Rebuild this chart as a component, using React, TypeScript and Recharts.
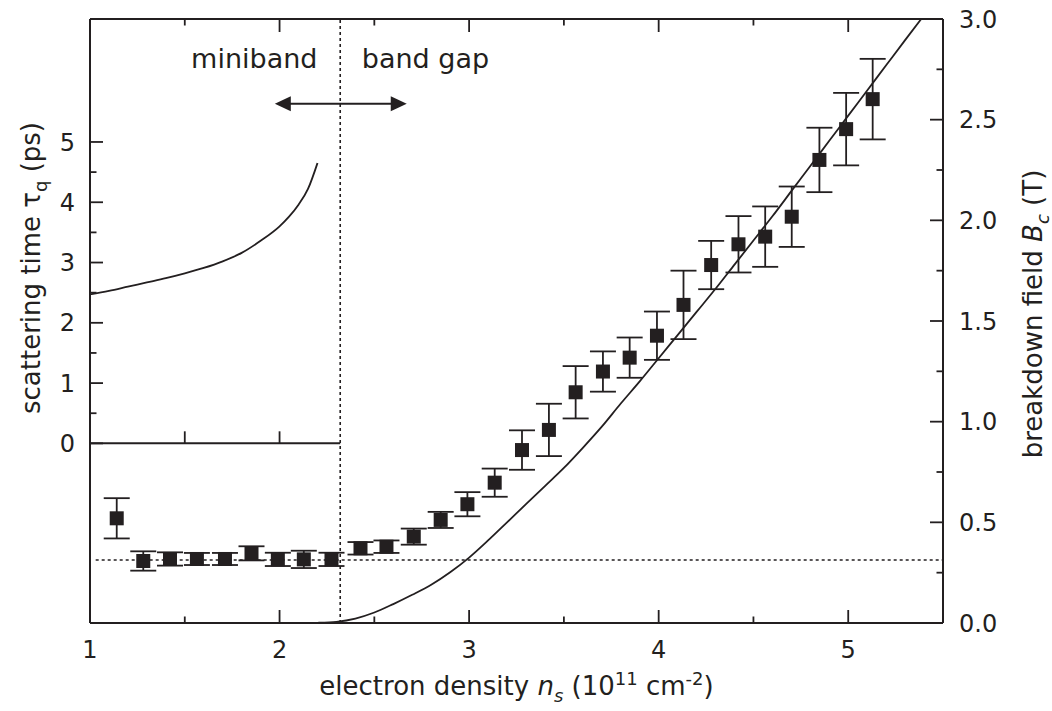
import React from "react";
import {
  ComposedChart,
  XAxis,
  YAxis,
  Line,
  Scatter,
  ErrorBar,
  ReferenceLine,
  ReferenceDot,
} from "recharts";

const INK = "#231f20";
const FONT = "'DejaVu Sans', sans-serif";

// scattering time in the miniband regime (left axis, ps)
const tauNs = [1.0, 1.1, 1.2, 1.3, 1.4, 1.5, 1.6, 1.7, 1.8, 1.9, 2.0, 2.05, 2.1, 2.15, 2.2];
const tauPs = [2.47, 2.53, 2.6, 2.67, 2.74, 2.82, 2.91, 3.02, 3.16, 3.36, 3.6, 3.76, 3.96, 4.22, 4.65];

// calculated breakdown field (right axis, T)
const fitNs = [
  2.13, 2.2, 2.3, 2.4, 2.5, 2.6, 2.7, 2.8, 2.9, 3.0, 3.1, 3.2, 3.3, 3.4, 3.5, 3.6, 3.7,
  3.8, 3.9, 4.0, 4.1, 4.2, 4.3, 4.4, 4.5, 4.6, 4.7, 4.8, 4.9, 5.0, 5.1, 5.2, 5.3, 5.385,
];
const fitBc = [
  0, 0.001, 0.006, 0.022, 0.052, 0.094, 0.14, 0.19, 0.252, 0.325, 0.41, 0.5, 0.59, 0.68,
  0.77, 0.87, 0.975, 1.09, 1.2, 1.315, 1.43, 1.545, 1.66, 1.78, 1.9, 2.02, 2.145, 2.27,
  2.395, 2.52, 2.645, 2.77, 2.895, 3.0,
];

// measured breakdown field with error bars
const measNs = [
  1.141, 1.281, 1.422, 1.564, 1.712, 1.852, 1.991, 2.128, 2.274, 2.427, 2.564, 2.708,
  2.85, 2.991, 3.135, 3.279, 3.421, 3.562, 3.706, 3.847, 3.991, 4.131, 4.277, 4.421,
  4.562, 4.702, 4.848, 4.989, 5.129,
];
const measBc = [
  0.52, 0.308, 0.318, 0.318, 0.318, 0.346, 0.316, 0.316, 0.316, 0.371, 0.379, 0.429,
  0.512, 0.59, 0.697, 0.859, 0.959, 1.146, 1.249, 1.318, 1.427, 1.58, 1.778, 1.881,
  1.919, 2.018, 2.3, 2.453, 2.602,
];
const measErr = [
  0.1, 0.048, 0.033, 0.03, 0.03, 0.035, 0.033, 0.043, 0.033, 0.031, 0.031, 0.04, 0.04,
  0.06, 0.07, 0.098, 0.13, 0.13, 0.1, 0.1, 0.12, 0.17, 0.12, 0.14, 0.15, 0.15, 0.16,
  0.18, 0.2,
];

const xTicks = [1, 1.5, 2, 2.5, 3, 3.5, 4, 4.5, 5, 5.5];
const tauTicks = [0, 0.5, 1, 1.5, 2, 2.5, 3, 3.5, 4, 4.5, 5];
const bcTicks = [0, 0.25, 0.5, 0.75, 1, 1.25, 1.5, 1.75, 2, 2.25, 2.5, 2.75, 3];

const BOUNDARY_NS = 2.32;
const PLATEAU_BC = 0.313;

const tauData = tauNs.map((x, i) => ({ x, y: tauPs[i] }));
const fitData = fitNs.map((x, i) => ({ x, y: fitBc[i] }));
const measData = measNs.map((x, i) => ({ x, y: measBc[i], err: measErr[i] }));

const isInt = (v: number) => Math.abs(v - Math.round(v)) < 1e-6;
const isHalf = (v: number) => Math.abs(v * 2 - Math.round(v * 2)) < 1e-6;

type Side = "bottom" | "top" | "left" | "right";

// inward ticks, long for major, short for minor
function makeTick(side: Side, isMajor: (v: number) => boolean, fmt?: (v: number) => string) {
  return (props: any) => {
    const { x, y, payload } = props;
    const v = payload.value as number;
    const major = isMajor(v);
    const len = major ? 13 : 6.5;
    let line;
    if (side === "bottom") line = <line x1={x} y1={y} x2={x} y2={y - len} />;
    else if (side === "top") line = <line x1={x} y1={y} x2={x} y2={y + len} />;
    else if (side === "left") line = <line x1={x} y1={y} x2={x + len} y2={y} />;
    else line = <line x1={x} y1={y} x2={x - len} y2={y} />;

    let label = null;
    if (major && fmt) {
      const common = { fontFamily: FONT, fontSize: 24, fill: INK };
      if (side === "bottom")
        label = <text x={x} y={y + 35} textAnchor="middle" {...common}>{fmt(v)}</text>;
      else if (side === "left")
        label = <text x={x - 15} y={y + 8.6} textAnchor="end" {...common}>{fmt(v)}</text>;
      else if (side === "right")
        label = <text x={x + 16} y={y + 8.6} textAnchor="start" {...common}>{fmt(v)}</text>;
    }
    return (
      <g>
        <g stroke={INK} strokeWidth={1.8}>{line}</g>
        {label}
      </g>
    );
  };
}

const arrowShape = (p: any) => {
  const { x1, y1, x2, y2 } = p;
  const head = 16;
  const half = 7.5;
  return (
    <g>
      <line x1={x1 + head - 2} y1={y1} x2={x2 - head + 2} y2={y2} stroke={INK} strokeWidth={2} />
      <polygon points={`${x1},${y1} ${x1 + head},${y1 - half} ${x1 + head},${y1 + half}`} fill={INK} />
      <polygon points={`${x2},${y2} ${x2 - head},${y2 - half} ${x2 - head},${y2 + half}`} fill={INK} />
    </g>
  );
};

const regionText = (text: string, anchor: "start" | "end") => (p: any) => (
  <text x={p.cx} y={p.cy} textAnchor={anchor} fontFamily={FONT} fontSize={27} fill={INK}>
    {text}
  </text>
);

const squareShape = (p: any) => (
  <rect x={p.cx - 7} y={p.cy - 7} width={14} height={14} fill={INK} />
);

const bottomTitle = (props: any) => {
  const vb = props.viewBox;
  return (
    <text x={vb.x + vb.width / 2} y={vb.y + 72} textAnchor="middle" fontFamily={FONT} fontSize={26} fill={INK}>
      electron density <tspan fontStyle="italic">n</tspan>
      <tspan dy={7} fontSize={18} fontStyle="italic">s</tspan>
      <tspan dy={-7}> (10</tspan>
      <tspan dy={-10} fontSize={18}>11</tspan>
      <tspan dy={10}> cm</tspan>
      <tspan dy={-10} fontSize={18}>-2</tspan>
      <tspan dy={10}>)</tspan>
    </text>
  );
};

const leftTitle = (props: any) => {
  const vb = props.viewBox;
  const x = vb.x + 40;
  const y = vb.y + 249;
  return (
    <text x={x} y={y} transform={`rotate(-90 ${x} ${y})`} textAnchor="middle" fontFamily={FONT} fontSize={26} fill={INK}>
      scattering time τ<tspan dy={7} fontSize={18}>q</tspan>
      <tspan dy={-7}> (ps)</tspan>
    </text>
  );
};

const rightTitle = (props: any) => {
  const vb = props.viewBox;
  const x = vb.x + 99;
  const y = vb.y + 295;
  return (
    <text x={x} y={y} transform={`rotate(-90 ${x} ${y})`} textAnchor="middle" fontFamily={FONT} fontSize={26} fill={INK}>
      breakdown field <tspan fontStyle="italic">B</tspan>
      <tspan dy={7} fontSize={18} fontStyle="italic">c</tspan>
      <tspan dy={-7}> (T)</tspan>
    </text>
  );
};

const axisLine = { stroke: INK, strokeWidth: 2 };

export default function App() {
  return (
    <div style={{ position: "absolute", left: 0, top: 0, background: "#fff" }}>
      <ComposedChart width={1052} height={711} margin={{ top: 0, right: 0, bottom: 0, left: 0 }}>
        <XAxis
          xAxisId="bottom"
          dataKey="x"
          type="number"
          domain={[1, 5.5]}
          allowDataOverflow
          ticks={xTicks}
          interval={0}
          tickSize={0}
          tickMargin={0}
          tickLine={false}
          axisLine={axisLine}
          height={88}
          tick={makeTick("bottom", isInt, (v) => String(v))}
          label={bottomTitle}
        />
        <XAxis
          xAxisId="top"
          orientation="top"
          dataKey="x"
          type="number"
          domain={[1, 5.5]}
          allowDataOverflow
          ticks={xTicks}
          interval={0}
          tickSize={0}
          tickMargin={0}
          tickLine={false}
          axisLine={axisLine}
          height={19}
          tick={makeTick("top", isInt)}
        />
        <YAxis
          yAxisId="left"
          type="number"
          domain={[-2.98, 7.04]}
          allowDataOverflow
          ticks={tauTicks}
          interval={0}
          tickSize={0}
          tickMargin={0}
          tickLine={false}
          axisLine={axisLine}
          width={90}
          tick={makeTick("left", isInt, (v) => String(v))}
          label={leftTitle}
        />
        <YAxis
          yAxisId="right"
          orientation="right"
          type="number"
          domain={[0, 3]}
          allowDataOverflow
          ticks={bcTicks}
          interval={0}
          tickSize={0}
          tickMargin={0}
          tickLine={false}
          axisLine={axisLine}
          width={109}
          tick={makeTick("right", isHalf, (v) => v.toFixed(1))}
          label={rightTitle}
        />

        {/* zero line of the upper panel, with its own ticks */}
        <ReferenceLine
          xAxisId="bottom"
          yAxisId="left"
          segment={[{ x: 1, y: 0 }, { x: BOUNDARY_NS, y: 0 }]}
          stroke={INK}
          strokeWidth={2}
        />
        <ReferenceLine xAxisId="bottom" yAxisId="left" segment={[{ x: 1.5, y: 0 }, { x: 1.5, y: 0.2 }]} stroke={INK} strokeWidth={1.8} />
        <ReferenceLine xAxisId="bottom" yAxisId="left" segment={[{ x: 2, y: 0 }, { x: 2, y: 0.2 }]} stroke={INK} strokeWidth={1.8} />

        <ReferenceLine xAxisId="bottom" yAxisId="left" x={BOUNDARY_NS} stroke={INK} strokeWidth={1.6} strokeDasharray="3 3" />
        <ReferenceLine
          xAxisId="bottom"
          yAxisId="right"
          segment={[{ x: 1.03, y: PLATEAU_BC }, { x: 5.5, y: PLATEAU_BC }]}
          stroke={INK}
          strokeWidth={1.6}
          strokeDasharray="3 3"
        />

        <ReferenceLine
          xAxisId="bottom"
          yAxisId="left"
          segment={[{ x: 1.975, y: 5.635 }, { x: 2.671, y: 5.635 }]}
          shape={arrowShape}
        />
        <ReferenceDot xAxisId="bottom" yAxisId="left" x={2.2} y={6.232} r={2} shape={regionText("miniband", "end")} />
        <ReferenceDot xAxisId="bottom" yAxisId="left" x={2.434} y={6.232} r={2} shape={regionText("band gap", "start")} />

        <Line
          xAxisId="bottom"
          yAxisId="left"
          data={tauData}
          dataKey="y"
          type="monotone"
          stroke={INK}
          strokeWidth={1.8}
          dot={false}
          isAnimationActive={false}
        />
        <Line
          xAxisId="bottom"
          yAxisId="right"
          data={fitData}
          dataKey="y"
          type="monotone"
          stroke={INK}
          strokeWidth={1.8}
          dot={false}
          isAnimationActive={false}
        />
        <Scatter
          xAxisId="bottom"
          yAxisId="right"
          data={measData}
          dataKey="y"
          shape={squareShape}
          isAnimationActive={false}
        >
          <ErrorBar dataKey="err" direction="y" width={13} stroke={INK} strokeWidth={1.8} isAnimationActive={false} />
        </Scatter>
      </ComposedChart>
    </div>
  );
}
